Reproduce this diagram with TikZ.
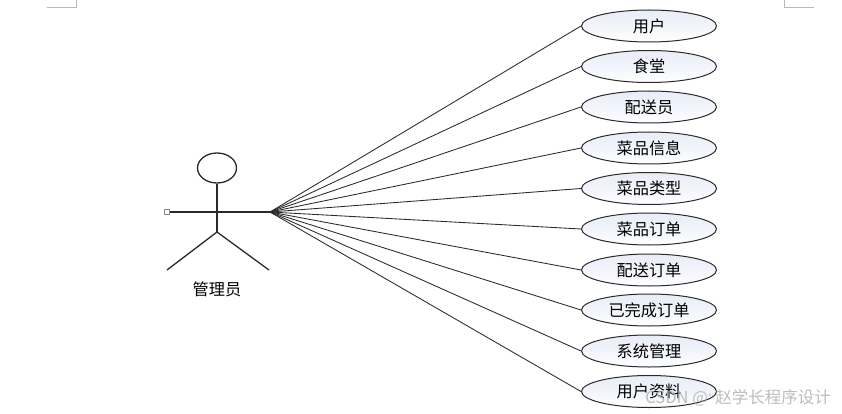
\documentclass[tikz,border=0pt]{standalone}
\usepackage{fontspec}
\setmainfont{Noto Sans CJK SC}
\usetikzlibrary{shapes.geometric}
\definecolor{edgeink}{HTML}{2A2A2A}
\definecolor{ucfill}{HTML}{E8EDF7}
\tikzset{
  x=1pt,y=-1pt,
  labelfont/.style={font=\fontsize{16.2}{17}\selectfont},
  usecase/.style={ellipse,draw=edgeink,line width=1pt,minimum width=135pt,minimum height=32pt,inner sep=0pt,
    top color=ucfill,bottom color=white,middle color=white!40!ucfill,labelfont,text=black},
  limb/.style={draw=edgeink,line width=1.3pt},
  assoc/.style={draw=edgeink,line width=0.85pt},
  cropmark/.style={draw=black!28,line width=0.8pt},
}
\begin{document}
\begin{tikzpicture}
\useasboundingbox (0,0) rectangle (842,414);
\fill[white] (0,0) rectangle (842,414);
% page corner marks
\draw[cropmark] (47,7) -- (76,7) -- (76,0);
\draw[cropmark] (784,0) -- (784,7) -- (814,7);
% actor
\node[ellipse,draw=edgeink,line width=1.3pt,minimum width=39pt,minimum height=30pt,inner sep=0pt] (head) at (217,168) {};
\coordinate (hip) at (217,232);
\coordinate (armL) at (167,212);
\coordinate (hub) at (270,212);
\coordinate (footL) at (167,270);
\coordinate (footR) at (269,270);
\draw[limb] (head.south) -- (hip);
\draw[limb] (armL) -- (hub);
\draw[limb] (footL) -- (hip) -- (footR);
\node[draw=black!45,fill=white,line width=0.8pt,minimum size=5.5pt,inner sep=0pt] (grip) at (armL) {};
\node[labelfont] (actor) at (217,289) {管理员};
% use cases
\node[usecase] (u1) at (649,26) {用户};
\node[usecase] (u2) at (649,66.5) {食堂};
\node[usecase] (u3) at (649,107) {配送员};
\node[usecase] (u4) at (649,148) {菜品信息};
\node[usecase] (u5) at (649,188.5) {菜品类型};
\node[usecase] (u6) at (649,229) {菜品订单};
\node[usecase] (u7) at (649,270) {配送订单};
\node[usecase] (u8) at (649,310) {已完成订单};
\node[usecase] (u9) at (649,351) {系统管理};
\node[usecase] (u10) at (649,391.5) {用户资料};
\foreach \n in {1,...,10} \draw[assoc] (hub) -- (u\n.west);
% watermark
\node[font=\fontsize{16.5}{17}\selectfont,text=black!32,anchor=east,inner sep=0pt,opacity=0.8] (mark) at (831,398) {CSDN @\raisebox{3pt}{\fontsize{8}{8}\selectfont *} 赵学长程序设计};
\end{tikzpicture}
\end{document}
